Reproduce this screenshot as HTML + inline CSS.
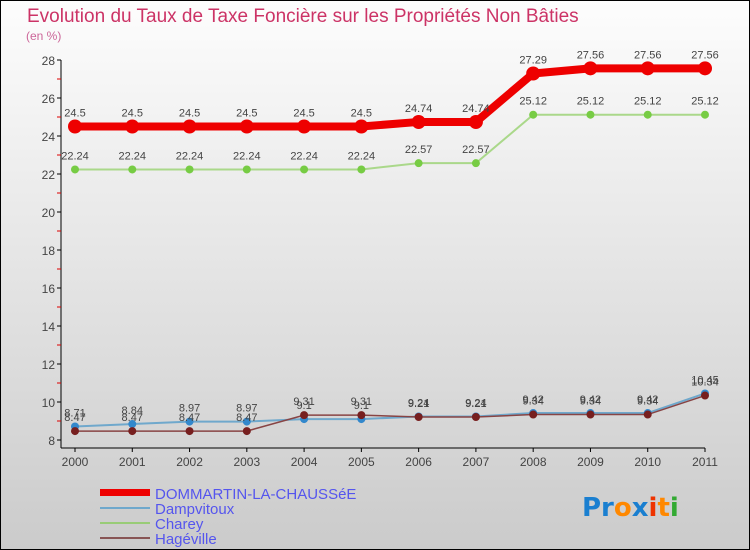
<!DOCTYPE html>
<html><head><meta charset="utf-8"><style>
body{margin:0;width:750px;height:550px;overflow:hidden}
svg{display:block;font-family:"Liberation Sans",sans-serif}
</style></head><body>
<svg width="750" height="550">
<defs><linearGradient id="bg" x1="0" y1="0" x2="0" y2="1"><stop offset="0" stop-color="#fdfdfd"/><stop offset="1" stop-color="#cbcbcb"/></linearGradient></defs>
<rect x="0.5" y="0.5" width="749" height="549" fill="url(#bg)" stroke="#000"/>
<text x="27" y="22" font-size="19" fill="#cc3366">Evolution du Taux de Taxe Foncière sur les Propriétés Non Bâties</text>
<text x="26" y="40" font-size="12" fill="#cc6699">(en %)</text>
<g id="axes"></g><g id="series"></g>
<g>
<rect x="100" y="489" width="50" height="7" fill="#e00"/>
<text x="155" y="499" font-size="15" fill="#5555ee">DOMMARTIN-LA-CHAUSSéE</text>
<rect x="100" y="507" width="50" height="2" fill="#6fa8cc"/>
<text x="155" y="514" font-size="15" fill="#5555ee">Dampvitoux</text>
<rect x="100" y="522" width="50" height="2" fill="#99cc77"/>
<text x="155" y="529" font-size="15" fill="#5555ee">Charey</text>
<rect x="100" y="537" width="50" height="2" fill="#885555"/>
<text x="155" y="544" font-size="15" fill="#5555ee">Hagéville</text>
</g>
<text x="582" y="516" font-size="26" font-weight="bold" font-family="DejaVu Sans,sans-serif"><tspan fill="#1a7fd0">Pr</tspan><tspan fill="#ff8800">o</tspan><tspan fill="#1a7fd0">x</tspan><tspan fill="#ee3300">i</tspan><tspan fill="#ff8800">t</tspan><tspan fill="#33aa33">i</tspan></text>
</svg>
<script>
const years=["2000","2001","2002","2003","2004","2005","2006","2007","2008","2009","2010","2011"];
const yTicks=[8,10,12,14,16,18,20,22,24,26,28];
const dommartin=[24.5,24.5,24.5,24.5,24.5,24.5,24.74,24.74,27.29,27.56,27.56,27.56];
const dampvitoux=[8.71,8.84,8.97,8.97,9.1,9.1,9.24,9.24,9.42,9.42,9.42,10.45];
const charey=[22.24,22.24,22.24,22.24,22.24,22.24,22.57,22.57,25.12,25.12,25.12,25.12];
const hageville=[8.47,8.47,8.47,8.47,9.31,9.31,9.21,9.21,9.34,9.34,9.34,10.34];
const NS="http://www.w3.org/2000/svg";
const X=i=>75+i*(630/11), Y=v=>60+(28-v)*19;
function mk(t,a,p){const e=document.createElementNS(NS,t);for(const k in a)e.setAttribute(k,a[k]);p.appendChild(e);return e;}
const ax=document.getElementById('axes');
let l=mk('line',{x1:61,y1:60,x2:61,y2:448,stroke:'#000'},ax);


l=mk('line',{x1:61,y1:448,x2:705,y2:448,stroke:'#000'},ax);


yTicks.forEach(v=>{
 mk('line',{x1:57,y1:Y(v),x2:61,y2:Y(v),stroke:'#000'},ax);
 if(v<28)mk('line',{x1:57,y1:Y(v+1),x2:61,y2:Y(v+1),stroke:'#d00'},ax);
 const t=mk('text',{x:55,y:Y(v)+5,'font-size':12,fill:'#444','text-anchor':'end'},ax);t.textContent=v;
 
 
});
years.forEach((y,i)=>{
 mk('line',{x1:X(i),y1:448,x2:X(i),y2:452,stroke:'#000'},ax);
 const t=mk('text',{x:X(i),y:466,'font-size':12,fill:'#444','text-anchor':'middle'},ax);t.textContent=y;
 
 
});
const sg=document.getElementById('series');
function series(name,vals,col,w,r,pc){
 const g=mk('g',{},sg);
 
 
 mk('polyline',{points:vals.map((v,i)=>X(i)+','+Y(v)).join(' '),fill:'none',stroke:col,'stroke-width':w},g);
 vals.forEach((v,i)=>{
  const c=mk('circle',{cx:X(i),cy:Y(v),r:r,fill:pc},g);
  
  
  const t=mk('text',{x:X(i),y:Y(v)-10,'font-size':11,fill:'#444','text-anchor':'middle'},g);t.textContent=v;
  
  
 });
}
series('charey',charey,'#aad88a',2,4,'#77cc44');
series('dampvitoux',dampvitoux,'#6fa8cc',2,4,'#3388cc');
series('hageville',hageville,'#884444',1.5,4,'#771f1f');
series('dommartin',dommartin,'#e00',8,7,'#e00');
</script>
</body></html>
